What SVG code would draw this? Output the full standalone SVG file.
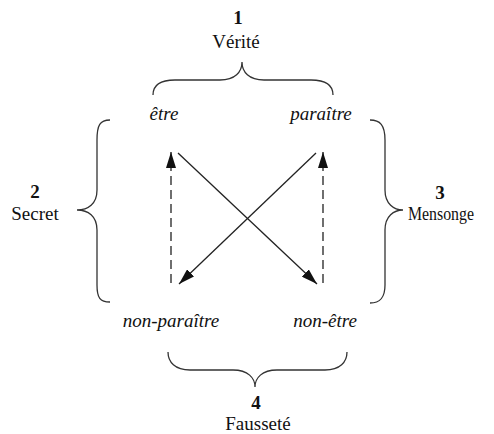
<svg xmlns="http://www.w3.org/2000/svg" width="494" height="434" viewBox="0 0 494 434">
<defs>
<style>
text{font-family:"Liberation Serif","Times New Roman",serif;font-size:19px;fill:#111;text-anchor:middle}
.num{font-weight:bold}
.it{font-style:italic}
.brace{fill:none;stroke:#333;stroke-width:1.3}
.arr{fill:none;stroke:#222;stroke-width:1.3}
.dash{stroke-dasharray:9 5}
</style>
<marker id="ah" viewBox="0 0 16 10" refX="16" refY="5" markerWidth="16" markerHeight="10" markerUnits="userSpaceOnUse" orient="auto">
<path d="M0,0 L16,5 L0,10 Z" fill="#111"/>
</marker>
</defs>
<rect width="494" height="434" fill="#fff"/>
<g id="label-verite">
<text x="238" y="24" class="num">1</text>
<text x="236" y="48">Vérité</text>
<path class="brace" d="M153,95 C153,85 160,80 175,80 L220,80 C235,80 242,72 242,62 C242,72 249,80 264,80 L311,80 C326,80 333,85 333,95"/>
</g>
<g id="label-secret">
<text x="35" y="198" class="num">2</text>
<text x="35" y="220">Secret</text>
<path class="brace" d="M110,120 C100,120 97,125 97,140 L97,190 C97,204 88,210 77,210 C88,210 97,216 97,230 L97,285 C97,298 100,302 110,302"/>
</g>
<g id="label-mensonge">
<text x="440" y="199" class="num">3</text>
<text x="441" y="220" textLength="66" lengthAdjust="spacingAndGlyphs">Mensonge</text>
<path class="brace" d="M370,120 C380,120 385,125 385,140 L385,190 C385,204 394,210 403,210 C394,210 385,216 385,230 L385,285 C385,298 380,303 370,303"/>
</g>
<g id="label-faussete">
<path class="brace" d="M168,352 C168,362 175,370 190,370 L233,370 C248,370 255,378 255,387 C255,378 262,370 277,370 L325,370 C340,370 347,362 347,352"/>
<text x="256" y="409" class="num">4</text>
<text x="258" y="430">Fausseté</text>
</g>
<g id="node-etre"><text x="164" y="120" class="it">être</text></g>
<g id="node-paraitre"><text x="321" y="120" class="it">paraître</text></g>
<g id="node-non-paraitre"><text x="171" y="327" class="it">non-paraître</text></g>
<g id="node-non-etre"><text x="325" y="327" class="it">non-être</text></g>
<g id="connectors">
<line class="arr dash" x1="171" y1="283" x2="171" y2="152" marker-end="url(#ah)"/>
<line class="arr dash" x1="323" y1="283" x2="323" y2="152" marker-end="url(#ah)"/>
<line class="arr" x1="178" y1="153" x2="317" y2="284" marker-end="url(#ah)"/>
<line class="arr" x1="316" y1="153" x2="179" y2="284" marker-end="url(#ah)"/>
</g>
</svg>
